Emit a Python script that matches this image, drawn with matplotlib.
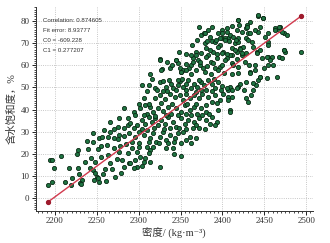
import numpy as np
import matplotlib
matplotlib.use("Agg")
import matplotlib.pyplot as plt
from matplotlib.ticker import MultipleLocator

# density (kg/m3) and water saturation (%)
density = [
    2194, 2196, 2207, 2199, 2192, 2196, 2217, 2212, 2219, 2220, 2226, 2228, 2228, 2229,
    2232, 2230, 2231, 2236, 2242, 2243, 2245, 2248, 2250, 2252, 2255, 2257, 2260, 2261,
    2264, 2266, 2272, 2276, 2279, 2280, 2283, 2287, 2288, 2251, 2247, 2253, 2271, 2274,
    2282, 2287, 2287, 2275, 2270, 2266, 2259, 2264, 2253, 2245, 2238, 2245, 2271, 2275,
    2283, 2288, 2277,
    2304, 2312, 2319, 2325, 2329, 2333, 2339, 2341, 2347, 2349, 2353, 2357, 2359, 2363,
    2366, 2370, 2374, 2378, 2383, 2387, 2391, 2395, 2399, 2345, 2368, 2380,
    2306, 2319, 2325, 2329, 2331, 2337, 2343, 2349, 2353, 2357, 2361, 2366, 2372, 2376,
    2383, 2387, 2391, 2397, 2401,
    2294, 2302, 2308, 2314, 2310, 2317, 2323, 2329, 2335, 2339, 2345, 2351, 2355, 2361,
    2366, 2370, 2374, 2380, 2387, 2393, 2395,
    2298, 2304, 2308, 2312, 2316, 2319, 2323, 2327, 2331, 2335, 2341, 2345, 2351, 2355,
    2359, 2363, 2366, 2368, 2372, 2380, 2385, 2391,
    2292, 2296, 2300, 2306, 2310, 2314, 2317, 2321, 2325, 2329, 2333, 2337, 2343, 2347,
    2353, 2357, 2361, 2365, 2368, 2335,
    2292, 2298, 2302, 2296, 2306, 2298, 2304, 2294, 2310, 2314, 2317, 2312, 2326, 2314,
    2333, 2341, 2342, 2350, 2300, 2308, 2290,
    2326, 2328, 2345, 2348, 2349, 2351, 2360, 2364, 2365, 2369, 2371, 2373, 2374, 2378,
    2379, 2381, 2383, 2385, 2386, 2388, 2389, 2391, 2394, 2395, 2397, 2399, 2400, 2401,
    2397, 2369, 2379, 2362, 2353, 2337,
    2419, 2442, 2449, 2433, 2429, 2428, 2417, 2423, 2419, 2407, 2411, 2421, 2425, 2435,
    2443, 2439, 2445, 2455, 2463, 2467, 2469, 2473, 2477, 2473, 2475, 2494, 2447, 2455,
    2459, 2467, 2471, 2455, 2439, 2433, 2439, 2419, 2405, 2411, 2417, 2423, 2415, 2403,
    2451, 2455, 2441, 2428, 2430,
    2445, 2453, 2443, 2440, 2437, 2428, 2421, 2419, 2417, 2409, 2407, 2411, 2405, 2426,
    2428, 2430, 2407, 2411, 2407, 2409, 2409,
    2399, 2405, 2409, 2403, 2413, 2419, 2421, 2415, 2409, 2417, 2423, 2427, 2419, 2411,
    2403, 2399, 2395, 2391, 2397, 2385, 2381, 2389, 2395, 2377, 2373, 2369, 2379, 2383,
    2419, 2420, 2429, 2433, 2431, 2437, 2441, 2445, 2443, 2449, 2363, 2365, 2357, 2351,
    2347, 2347, 2325, 2327, 2345, 2453, 2457, 2473, 2463, 2467, 2471, 2455, 2465, 2445,
    2437, 2433,
    2316, 2336, 2352, 2372, 2390,
    2310, 2322, 2334, 2356, 2374, 2388, 2398,
    2300, 2312, 2327, 2340, 2358, 2369, 2381, 2393,
    2296, 2306, 2320, 2333, 2347, 2357, 2376, 2384,
    2294, 2304, 2318, 2330, 2338, 2348, 2356, 2372, 2379,
    2300, 2312, 2324, 2342, 2350, 2362,
    2372, 2388, 2405, 2412,
    2370, 2382, 2392, 2408, 2416,
    2356, 2375, 2393, 2405, 2428,
    2340, 2356, 2382, 2400, 2413, 2432,
    2362, 2386, 2402, 2412,
    2255, 2262, 2268, 2278, 2285, 2248, 2240, 2282, 2276, 2290, 2266, 2256,
    2450, 2460, 2434, 2313, 2334,
]
saturation = [
    17.1, 17.4, 19.2, 13.5, 6.1, 7.5, 13.8, 7.5, 6.1, 9.0, 19.8, 21.8, 13.8, 10.8,
    8.2, 6.8, 6.4, 16.2, 13.8, 18.0, 12.7, 11.3, 9.6, 22.2, 23.6, 10.8, 13.2, 7.8,
    19.5, 15.8, 9.7, 21.0, 11.2, 17.2, 14.2, 20.3, 15.8, 9.0, 8.2, 7.5, 22.5, 17.7,
    40.5, 36.3, 33.0, 32.3, 31.2, 30.0, 30.8, 27.7, 27.0, 29.3, 25.8, 25.5, 27.0, 26.5,
    28.2, 29.3, 28.5,
    51.0, 51.0, 49.8, 52.5, 52.8, 50.2, 51.7, 49.5, 51.0, 52.8, 50.2, 51.3, 53.2, 49.5,
    51.7, 50.2, 52.5, 51.0, 53.2, 51.3, 49.5, 52.5, 50.7, 48.7, 48.0, 48.7,
    45.3, 45.0, 46.5, 48.3, 44.7, 47.2, 45.7, 46.5, 44.2, 47.2, 45.3, 46.5, 45.0, 47.2,
    45.7, 43.5, 46.5, 44.2, 47.2,
    38.7, 40.5, 42.0, 41.2, 37.8, 39.0, 40.5, 39.3, 41.2, 38.2, 40.5, 39.0, 42.0, 39.7,
    41.2, 38.2, 40.5, 39.0, 36.7, 34.5, 39.7,
    33.0, 35.2, 33.7, 36.7, 34.5, 36.0, 33.0, 35.2, 33.7, 36.7, 34.5, 32.2, 36.0, 33.7,
    35.2, 37.5, 34.5, 33.0, 36.3, 35.2, 33.7, 33.0,
    25.5, 27.7, 30.0, 28.5, 30.7, 27.0, 29.2, 25.5, 27.7, 30.0, 26.2, 28.5, 27.0, 29.2,
    30.0, 26.2, 27.7, 31.5, 27.0, 24.7,
    22.5, 21.0, 18.8, 17.3, 16.5, 14.3, 14.7, 13.5, 23.3, 21.8, 23.3, 20.3, 14.3, 16.2,
    22.8, 22.5, 19.8, 19.2, 23.3, 18.0, 15.8,
    62.8, 58.3, 62.3, 66.1, 58.9, 57.1, 58.6, 69.1, 63.1, 66.1, 62.3, 60.1, 73.6, 74.4,
    69.9, 67.6, 64.6, 72.9, 61.6, 70.9, 66.1, 58.6, 63.1, 74.4, 69.1, 72.1, 75.9, 66.1,
    59.4, 57.9, 57.1, 60.1, 57.9, 58.6,
    80.3, 82.1, 81.1, 79.6, 78.1, 76.6, 75.9, 75.1, 72.1, 72.1, 67.6, 67.6, 68.4, 70.6,
    75.1, 75.9, 77.4, 70.6, 76.6, 75.9, 77.4, 74.4, 73.6, 66.9, 66.1, 66.1, 63.1, 63.8,
    63.8, 63.8, 63.4, 60.1, 60.1, 57.1, 57.9, 56.4, 63.1, 64.6, 66.1, 64.6, 69.9, 72.1,
    72.9, 69.1, 66.1, 72.1, 74.4,
    54.7, 54.3, 53.2, 51.0, 48.7, 52.5, 51.7, 50.2, 49.5, 50.2, 48.7, 48.7, 49.5, 48.7,
    45.0, 43.5, 45.7, 45.7, 44.2, 39.7, 39.0,
    74.3, 75.0, 73.5, 71.3, 72.8, 70.6, 67.5, 66.8, 64.5, 63.0, 65.3, 61.6, 59.3, 60.8,
    62.3, 65.3, 68.3, 70.6, 72.1, 66.8, 63.8, 60.8, 57.8, 58.6, 61.6, 64.5, 74.3, 75.8,
    80.3, 78.1, 77.3, 74.3, 71.3, 68.3, 65.3, 66.8, 82.6, 81.1, 64.5, 61.6, 57.8, 57.1,
    60.8, 53.3, 62.3, 57.8, 62.3, 63.8, 62.3, 66.8, 75.8, 77.3, 75.0, 74.3, 54.8, 54.8,
    51.8, 56.3,
    53.6, 53.4, 53.8, 53.5, 53.9,
    48.4, 48.9, 48.2, 48.6, 48.9, 48.3, 48.7,
    42.6, 42.3, 42.8, 42.4, 42.7, 42.5, 42.2, 42.9,
    37.4, 37.7, 37.3, 37.6, 37.5, 37.8, 37.4, 37.9,
    31.6, 31.2, 31.8, 31.4, 31.9, 31.5, 31.3, 31.7, 31.2,
    24.8, 25.2, 24.9, 25.3, 24.7, 25.1,
    77.1, 77.4, 76.9, 77.6,
    71.2, 70.8, 71.4, 71.0, 71.3,
    65.2, 65.4, 64.9, 65.1, 65.3,
    60.2, 60.4, 59.8, 60.1, 60.3, 59.9,
    56.1, 55.8, 56.3, 55.9,
    18.5, 24.0, 13.0, 23.5, 24.5, 16.5, 22.0, 31.5, 36.0, 34.0, 34.5, 27.5,
    58.5, 60.0, 46.5, 55.8, 61.5,
]

# fit summary printed in the corner of the reference
correlation = 0.874605
fit_error = 8.93777
c0 = -609.228
c1 = 0.277207

x = np.array(density, dtype=float)
y = np.array(saturation, dtype=float)

label_font = ["Liberation Serif", "Noto Sans CJK SC", "DejaVu Serif"]

fig = plt.figure(figsize=(3.3, 2.43), dpi=100)
ax = fig.add_axes([0.108, 0.132, 0.84, 0.839])

ax.scatter(x, y, s=9, facecolor="#1f7442", edgecolor="#0a2814", linewidth=0.6, zorder=3)

x_fit = np.array([x.min(), x.max()])
ax.plot(x_fit, c0 + c1 * x_fit, color="#d23a4e", linewidth=1.0, zorder=4)
ax.plot(x_fit, c0 + c1 * x_fit, "o", color="#9e1a2c", markersize=2.8, zorder=5)

ax.set_xlim(2177, 2508)
ax.set_ylim(-5.7, 86.2)
ax.xaxis.set_major_locator(MultipleLocator(50))
ax.xaxis.set_minor_locator(MultipleLocator(5))
ax.yaxis.set_major_locator(MultipleLocator(10))
ax.yaxis.set_minor_locator(MultipleLocator(1))
ax.tick_params(which="major", length=3, width=0.6, direction="out", pad=1.5, labelsize=6.5)
ax.tick_params(which="minor", length=1.5, width=0.5, direction="out")
for lab in ax.get_xticklabels() + ax.get_yticklabels():
    lab.set_family("Liberation Serif")
    lab.set_color("#333333")

ax.grid(True, which="major", linestyle=":", linewidth=0.6, color="#b5b5b5", zorder=0)
for side in ("top", "right"):
    ax.spines[side].set_visible(False)
for side in ("left", "bottom"):
    ax.spines[side].set_linewidth(0.7)
    ax.spines[side].set_color("#333333")

ax.set_xlabel("密度/ (kg·m⁻³)", family=label_font, fontsize=7.5, labelpad=2, color="#333333")
ax.set_ylabel("含水饱和度，%", family=label_font, fontsize=7.5, labelpad=3, color="#333333")

info = [
    f"Correlation: {correlation}",
    f"Fit error: {fit_error}",
    f"C0 = {c0}",
    f"C1 = {c1}",
]
for i, line in enumerate(info):
    ax.text(0.026, 0.936 - i * 0.049, line, transform=ax.transAxes, fontsize=4.4,
            family="Liberation Sans", va="center", ha="left", color="#333333")

fig.savefig("out.png", dpi=100)
